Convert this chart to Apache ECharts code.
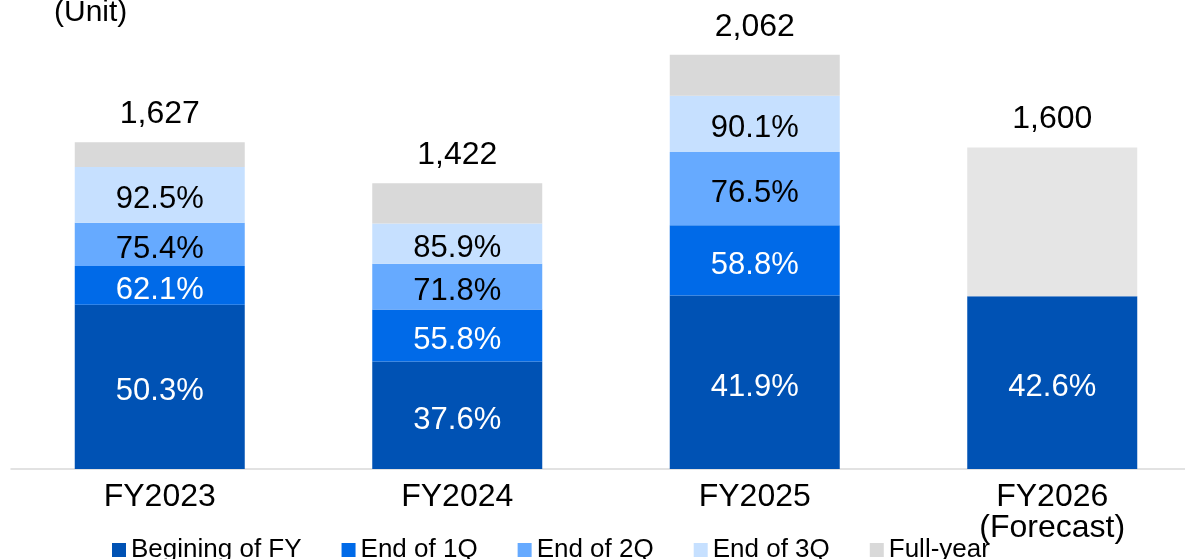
<!DOCTYPE html>
<html><head><meta charset="utf-8">
<script src="https://cdn.jsdelivr.net/npm/echarts@6/dist/echarts.min.js"></script>
<style>html,body{margin:0;padding:0;background:#fff}#c{width:1185px;height:559px}</style>
</head><body><div id="c"></div>
<script>
var categories = ['FY2023', 'FY2024', 'FY2025', 'FY2026\n(Forecast)'];
var seriesNames = ['Begining of FY', 'End of 1Q', 'End of 2Q', 'End of 3Q', 'Full-year'];
var totals = [1627, 1422, 2062, 1600];
var totalLabels = ['1,627', '1,422', '2,062', '1,600'];
// segment values (units)
var beginVals = [818, 535, 864, 860];
var q1Vals = [192, 259, 349, null];
var q2Vals = [216, 228, 365, null];
var q3Vals = [278, 200, 280, null];
var fullVals = [123, 200, 204, 740];
// cumulative percentage labels shown in the segments
var beginLabels = ['50.3%', '37.6%', '41.9%', '42.6%'];
var q1Labels = ['62.1%', '55.8%', '58.8%', ''];
var q2Labels = ['75.4%', '71.8%', '76.5%', ''];
var q3Labels = ['92.5%', '85.9%', '90.1%', ''];

var FONT = '"Liberation Sans", Arial, sans-serif';
var colors = ['#0052B4', '#006AE8', '#66AAFF', '#C6E0FF', '#D9D9D9'];

function seg(name, vals, labels, color, txtColor) {
  return {
    name: name, type: 'bar', stack: 'a', barWidth: 170,
    data: vals, itemStyle: { color: color },
    label: {
      show: true, position: 'inside', offset: [0, 5], color: txtColor, fontSize: 31, fontFamily: FONT,
      formatter: function (p) { return labels[p.dataIndex]; }
    }
  };
}

var chart = echarts.init(document.getElementById('c'));
chart.setOption({
  animation: false,
  color: colors,
  grid: { left: 11, right: -16, top: 7, bottom: 90, containLabel: false, outerBoundsMode: 'none' },
  xAxis: {
    type: 'category', data: categories,
    axisLine: { lineStyle: { color: '#D9D9D9', width: 1.5 } },
    axisTick: { show: false },
    axisLabel: { color: '#000', fontSize: 32, fontFamily: FONT, margin: 13, lineHeight: 31 }
  },
  yAxis: { type: 'value', min: 0, max: 2300, show: false, splitLine: { show: false } },
  legend: {
    left: 107, top: 532, icon: 'rect', itemWidth: 14, itemHeight: 14, itemGap: 40,
    textStyle: { color: '#000', fontSize: 26, fontFamily: FONT, padding: [0, 0, 0, 0] },
    data: seriesNames
  },
  graphic: [{
    type: 'text', left: 54, top: -2,
    style: { text: '(Unit)', fill: '#000', font: '30px ' + FONT }
  }],
  series: [
    seg(seriesNames[0], beginVals, beginLabels, colors[0], '#fff'),
    seg(seriesNames[1], q1Vals, q1Labels, colors[1], '#fff'),
    seg(seriesNames[2], q2Vals, q2Labels, colors[2], '#000'),
    seg(seriesNames[3], q3Vals, q3Labels, colors[3], '#000'),
    {
      name: seriesNames[4], type: 'bar', stack: 'a', barWidth: 170,
      data: fullVals.map(function (v, i) {
        return { value: v, itemStyle: { color: i === 3 ? '#E5E5E5' : colors[4] } };
      }),
      itemStyle: { color: colors[4] },
      label: {
        show: true, position: 'top', distance: 12, color: '#000', fontSize: 32, fontFamily: FONT,
        formatter: function (p) { return totalLabels[p.dataIndex]; }
      }
    }
  ]
});
</script></body></html>
